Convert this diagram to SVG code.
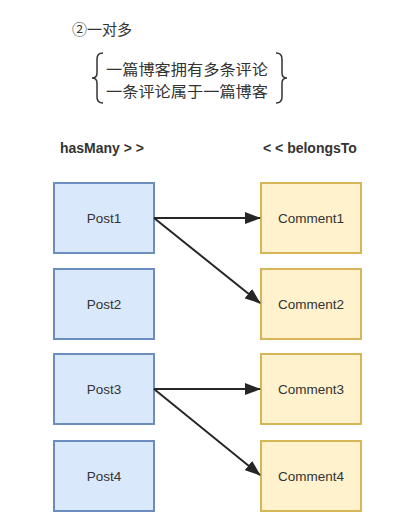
<svg xmlns="http://www.w3.org/2000/svg" width="408" height="530" viewBox="0 0 408 530">
<style>
.post{fill:#dae8fc;stroke:#6c8ebf;stroke-width:2}
.cmt{fill:#fff2cc;stroke:#d6b656;stroke-width:2}
.lbl{font-family:"Liberation Sans",Arial,sans-serif;font-size:13.5px;fill:#333;text-anchor:middle}
.hd{font-family:"Liberation Sans",Arial,sans-serif;font-size:14px;font-weight:bold;fill:#333}
.cjk{font-family:"Noto Sans CJK SC","Liberation Sans",sans-serif;fill:#333}
.edge{stroke:#262626;stroke-width:2;fill:none}
.brace{stroke:#333;stroke-width:1.5;fill:none}
</style>
<defs>
<marker id="arr" markerWidth="16" markerHeight="12" refX="15" refY="6" orient="auto" markerUnits="userSpaceOnUse">
<path d="M0,0 L16,6 L0,12 Z" fill="#262626"/>
</marker>
</defs>
<rect width="408" height="530" fill="#fff"/>
<g id="title">
<text class="cjk" x="72" y="35" font-size="15">②一对多</text>
</g>
<g id="description">
<path class="brace" d="M103,53 Q97,53 97,59 L97,73 Q97,78 92,78 Q97,78 97,83 L97,97 Q97,103 103,103"/>
<path class="brace" d="M276,53 Q282,53 282,59 L282,73 Q282,78 287,78 Q282,78 282,83 L282,97 Q282,103 276,103"/>
<text class="cjk" x="106" y="75" font-size="15" textLength="162" lengthAdjust="spacingAndGlyphs">一篇博客拥有多条评论</text>
<text class="cjk" x="106" y="97" font-size="15" textLength="162" lengthAdjust="spacingAndGlyphs">一条评论属于一篇博客</text>
</g>
<g id="headers">
<text class="hd" x="60" y="153">hasMany &gt; &gt;</text>
<text class="hd" x="263" y="153">&lt; &lt; belongsTo</text>
</g>
<g id="post1"><rect class="post" x="54" y="183" width="100" height="70"/><text class="lbl" x="104" y="223">Post1</text></g>
<g id="post2"><rect class="post" x="54" y="269" width="100" height="70"/><text class="lbl" x="104" y="309">Post2</text></g>
<g id="post3"><rect class="post" x="54" y="354" width="100" height="70"/><text class="lbl" x="104" y="394">Post3</text></g>
<g id="post4"><rect class="post" x="54" y="441" width="100" height="70"/><text class="lbl" x="104" y="481">Post4</text></g>
<g id="comment1"><rect class="cmt" x="261" y="183" width="100" height="70"/><text class="lbl" x="311" y="223">Comment1</text></g>
<g id="comment2"><rect class="cmt" x="261" y="269" width="100" height="70"/><text class="lbl" x="311" y="309">Comment2</text></g>
<g id="comment3"><rect class="cmt" x="261" y="354" width="100" height="70"/><text class="lbl" x="311" y="394">Comment3</text></g>
<g id="comment4"><rect class="cmt" x="261" y="441" width="100" height="70"/><text class="lbl" x="311" y="481">Comment4</text></g>
<g id="connectors">
<line class="edge" x1="154" y1="218" x2="260" y2="218" marker-end="url(#arr)"/>
<line class="edge" x1="154" y1="218" x2="260" y2="303" marker-end="url(#arr)"/>
<line class="edge" x1="154" y1="389" x2="260" y2="389" marker-end="url(#arr)"/>
<line class="edge" x1="154" y1="389" x2="260" y2="475" marker-end="url(#arr)"/>
</g>
</svg>
